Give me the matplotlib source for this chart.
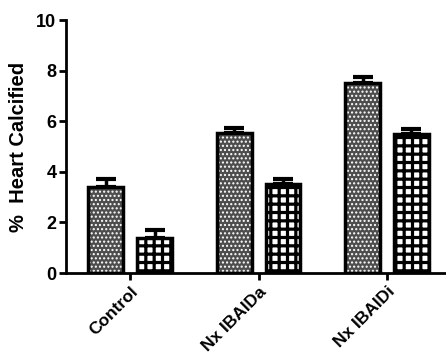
"""Bar chart: % heart calcified per treatment group, two series with SEM."""

import numpy as np
import matplotlib
matplotlib.use("Agg")
import matplotlib.pyplot as plt

# data
groups = ["Control", "Nx IBAIDa", "Nx IBAIDi"]
series_a = [3.4, 5.55, 7.5]
series_a_err = [0.3, 0.2, 0.25]
series_b = [1.4, 3.5, 5.5]
series_b_err = [0.3, 0.22, 0.2]
yticks = [0, 2, 4, 6, 8, 10]

plt.rcParams["font.family"] = ["Liberation Sans", "DejaVu Sans"]
plt.rcParams["font.weight"] = "bold"
plt.rcParams["hatch.linewidth"] = 1.0

fig = plt.figure(figsize=(4.46, 3.64), dpi=100)
ax = fig.add_axes([0.148, 0.25, 0.852, 0.695])

x = np.arange(len(groups))
off = 0.19
w = 0.27

# series A: grey with fine white dots
ax.bar(x - off, series_a, w, color="#4d4d4d", edgecolor="white", hatch="....",
       linewidth=0, zorder=2)
# series B: checkerboard-ish
plt.rcParams["hatch.linewidth"] = 2.3
ax.bar(x + off, series_b, w, color="white", edgecolor="black", hatch="++",
       linewidth=0, zorder=2)

# outlines + error bars
for xs, vals, errs in [(x - off, series_a, series_a_err), (x + off, series_b, series_b_err)]:
    ax.bar(xs, vals, w, fill=False, edgecolor="black", linewidth=2.5, zorder=3)
    ax.errorbar(xs, vals, yerr=[np.zeros(len(errs)), errs], fmt="none",
                ecolor="black", elinewidth=2.5, capsize=7, capthick=3, zorder=1)

ax.set_xlim(-0.5, 2.46)
ax.set_ylim(0, 10)
ax.set_yticks(yticks)
ax.set_xticks(x)
ax.set_xticklabels(groups, rotation=45, ha="right", rotation_mode="anchor",
                   fontsize=12.5, fontweight="bold")
ax.tick_params(axis="y", labelsize=13, width=2, length=5, pad=2)
ax.tick_params(axis="x", width=2, length=5, pad=3)
for lab in ax.get_yticklabels():
    lab.set_fontweight("bold")

ax.spines["top"].set_visible(False)
ax.spines["right"].set_visible(False)
ax.spines["left"].set_linewidth(2)
ax.spines["bottom"].set_linewidth(2)

ax.set_ylabel("%  Heart Calcified", fontsize=14.5, fontweight="bold", labelpad=6)

fig.savefig("out.png", dpi=100)
